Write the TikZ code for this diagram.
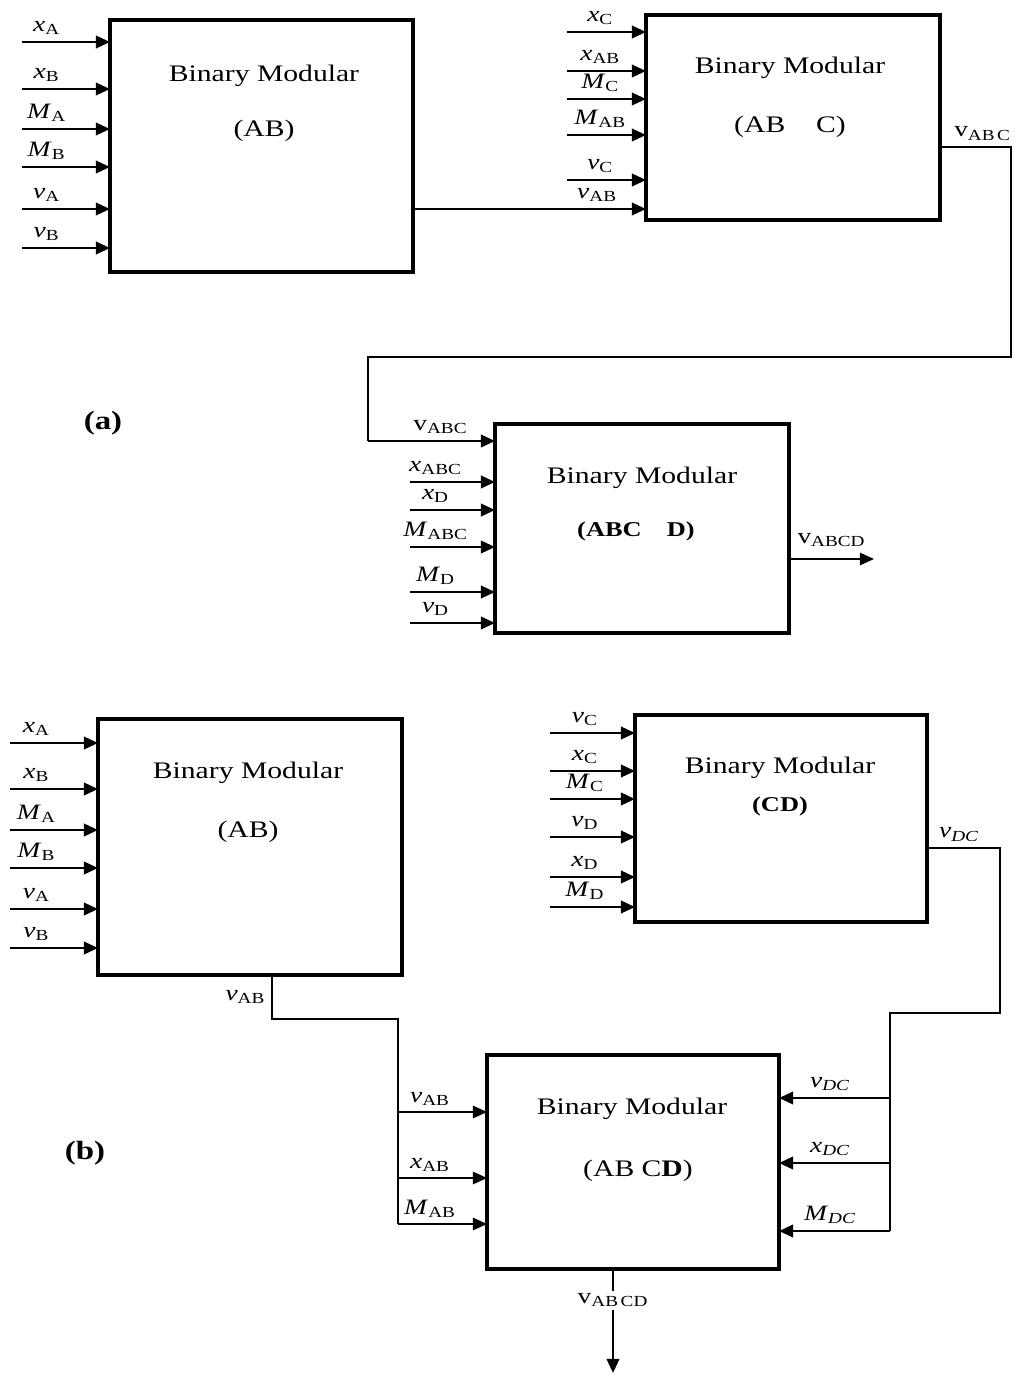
\documentclass[tikz,border=0pt]{standalone}
\usepackage{fontspec}
\setmainfont{Liberation Serif}[FakeStretch=1.25]
\usepackage{tikz}
\usetikzlibrary{arrows.meta}
\newcommand{\sg}[2]{\textit{#1}\textsubscript{#2}}
\newcommand{\usg}[2]{#1\textsubscript{#2}}

\begin{document}
\begin{tikzpicture}[x=0.02cm, y=-0.02cm, font=\fontsize{12.5}{14}\selectfont,
    module/.style={draw, line width=2pt, inner sep=0pt, outer sep=0pt},
    modtext/.style={font=\fontsize{13.5}{16}\selectfont},
    modsub/.style={font=\fontsize{12}{14}\selectfont\bfseries},
    inarrow/.style={line width=1.5pt, -{Triangle[length=8pt, width=7pt]}},
    wire/.style={line width=1pt}]
    \useasboundingbox (0,0) rectangle (1017,1375);

    % (a) 第一级: AB
    \node[module, minimum width=6.06cm, minimum height=5.04cm] (abA) at (261.5,146) {};
    \node[modtext] (abAt) at (264,76) {Binary Modular};
    \node[modtext] (abAs) at (264,131) {(AB)};
    \foreach \y/\lab [count=\i] in {42/\sg{x}{A}, 89/\sg{x}{B}, 129/\sg{M}{A}, 167/\sg{M}{B}, 209/\sg{v}{A}, 248/\sg{v}{B}} {
        \coordinate (abAin\i) at (22,\y);
        \draw[inarrow] (abAin\i) -- (abAin\i -| abA.west) node[pos=.28, above] {\lab};
    }

    % (a) 第二级: AB + C
    \node[module, minimum width=5.88cm, minimum height=4.10cm] (abcA) at (793,117.5) {};
    \node[modtext] (abcAt) at (790,68) {Binary Modular};
    \node[modtext] (abcAs) at (790,127) {(AB\hspace{1.3em}C)};
    \foreach \y/\lab [count=\i] in {32/\sg{x}{C}, 71/\sg{x}{AB}, 99/\sg{M}{C}, 135/\sg{M}{AB}, 180/\sg{v}{C}} {
        \coordinate (abcAin\i) at (567,\y);
        \draw[inarrow] (abcAin\i) -- (abcAin\i -| abcA.west) node[pos=.42, above] {\lab};
    }
    \draw[inarrow] (abA.east |- 0,209) -- (abcA.west |- 0,209) node[pos=.79, above] {\sg{v}{AB}};

    % 反馈到第三级
    \coordinate (loopR) at (1011,357);
    \coordinate (loopL) at (368,441);
    \draw[wire] (abcA.east |- 0,147) -| (loopR) node[pos=.3, above] {\usg{v}{AB\,C}} -| (loopL);

    % (a) 第三级: ABC + D
    \node[module, minimum width=5.88cm, minimum height=4.18cm] (abcdA) at (642,528.5) {};
    \node[modtext] (abcdAt) at (642,478) {Binary Modular};
    \node[modsub] (abcdAs) at (636,531) {(ABC\hspace{1.2em}D)};
    \draw[inarrow] (loopL) -- (loopL -| abcdA.west) node[pos=.57, above] {\usg{v}{ABC}};
    \foreach \y/\lab [count=\i] in {482/\sg{x}{ABC}, 510/\sg{x}{D}, 547/\sg{M}{ABC}, 592/\sg{M}{D}, 623/\sg{v}{D}} {
        \coordinate (abcdAin\i) at (410,\y);
        \draw[inarrow] (abcdAin\i) -- (abcdAin\i -| abcdA.west) node[pos=.3, above] {\lab};
    }
    \coordinate (abcdAout) at (874,559);
    \draw[inarrow, line width=1pt] (abcdA.east |- abcdAout) -- (abcdAout) node[midway, above=3pt] {\usg{v}{ABCD}};

    \node[font=\fontsize{15}{17}\selectfont\bfseries] (labA) at (103,423) {(a)};

    % (b) 并行: AB 与 CD
    \node[module, minimum width=6.08cm, minimum height=5.12cm] (abB) at (250,847) {};
    \node[modtext] (abBt) at (248,773) {Binary Modular};
    \node[modtext] (abBs) at (248,832) {(AB)};
    \foreach \y/\lab [count=\i] in {743/\sg{x}{A}, 789/\sg{x}{B}, 830/\sg{M}{A}, 868/\sg{M}{B}, 909/\sg{v}{A}, 948/\sg{v}{B}} {
        \coordinate (abBin\i) at (10,\y);
        \draw[inarrow] (abBin\i) -- (abBin\i -| abB.west) node[pos=.3, above] {\lab};
    }

    \node[module, minimum width=5.84cm, minimum height=4.14cm] (cdB) at (781,818.5) {};
    \node[modtext] (cdBt) at (780,768) {Binary Modular};
    \node[modsub] (cdBs) at (780,806) {(CD)};
    \foreach \y/\lab [count=\i] in {733/\sg{v}{C}, 771/\sg{x}{C}, 799/\sg{M}{C}, 837/\sg{v}{D}, 877/\sg{x}{D}, 907/\sg{M}{D}} {
        \coordinate (cdBin\i) at (550,\y);
        \draw[inarrow] (cdBin\i) -- (cdBin\i -| cdB.west) node[pos=.41, above] {\lab};
    }

    % (b) 合并: AB + CD
    \node[module, minimum width=5.84cm, minimum height=4.28cm] (abcdB) at (633,1162) {};
    \node[modtext] (abcdBt) at (632,1109) {Binary Modular};
    \node[modtext] (abcdBs) at (638,1171) {(AB C\textbf{D})};

    \coordinate (vabTurn) at (398,1019);
    \coordinate (vabEnd) at (398,1224);
    \draw[wire] (abB.south -| 272,0) |- (vabTurn) node[pos=.25, left] {\sg{v}{AB}} -- (vabEnd);
    \foreach \y/\lab in {1112/\sg{v}{AB}, 1178/\sg{x}{AB}, 1224/\sg{M}{AB}} {
        \draw[inarrow, line width=1pt] (vabEnd |- 0,\y) -- (abcdB.west |- 0,\y) node[pos=.36, above] {\lab};
    }

    \coordinate (vdcTurn) at (1000,1013);
    \coordinate (vdcEnd) at (890,1231);
    \draw[wire] (cdB.east |- 0,848) -| (vdcTurn) node[pos=.22, above] {\sg{v}{\textit{DC}}} -| (vdcEnd);
    \foreach \y/\lab in {1098/\sg{v}{\textit{DC}}, 1163/\sg{x}{\textit{DC}}, 1231/\sg{M}{\textit{DC}}} {
        \draw[inarrow] (vdcEnd |- 0,\y) -- (abcdB.east |- 0,\y) node[pos=.54, above] {\lab};
    }

    \coordinate (abcdBout) at (613,1373);
    \draw[inarrow] (abcdB.south -| abcdBout) -- (abcdBout) node[pos=.3, fill=white, inner sep=1.5pt] {\usg{v}{AB\,CD}};

    \node[font=\fontsize{15}{17}\selectfont\bfseries] (labB) at (85,1153) {(b)};
\end{tikzpicture}
\end{document}
